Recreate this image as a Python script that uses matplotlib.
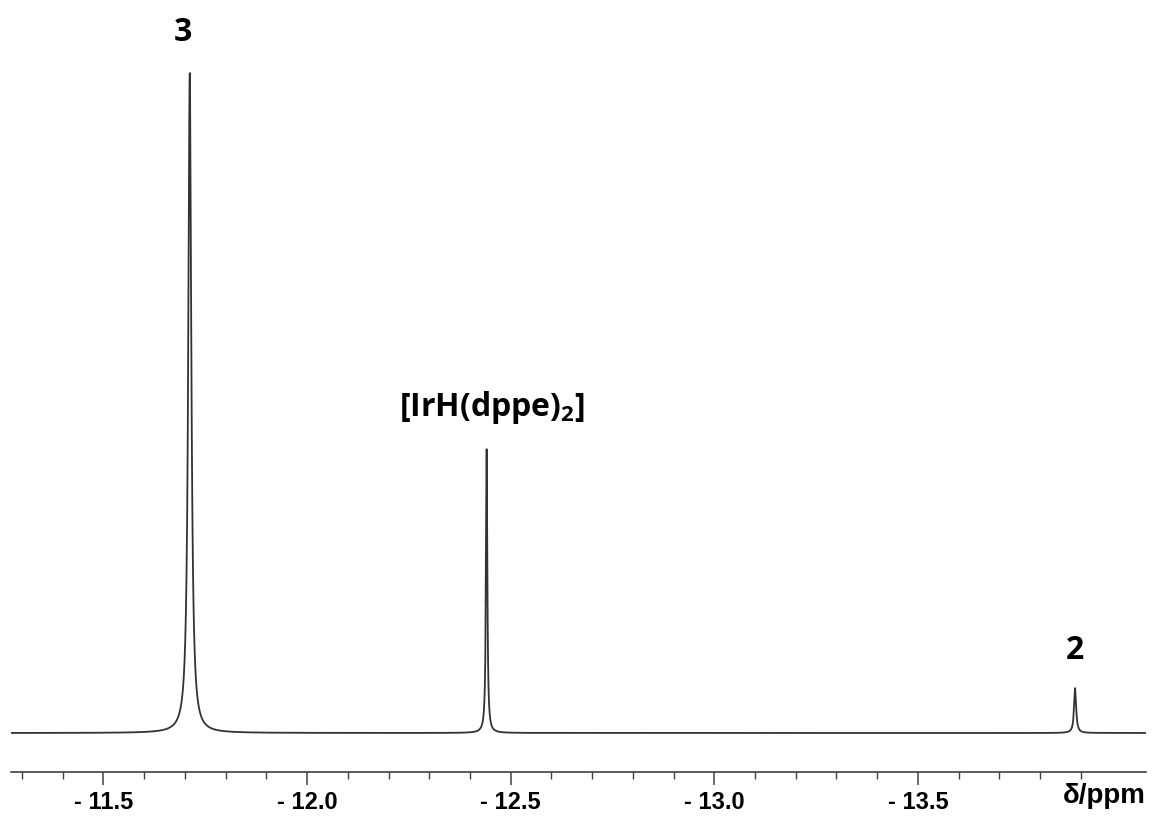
import numpy as np
import matplotlib
matplotlib.use("Agg")
import matplotlib.pyplot as plt
from matplotlib.ticker import FixedLocator

plt.rcParams["mathtext.fontset"] = "custom"
plt.rcParams["mathtext.bf"] = "Open Sans:bold"
plt.rcParams["mathtext.rm"] = "Open Sans:bold"

# hydride region peaks (ppm, relative intensity, half width in ppm)
peak_shifts = [-11.712, -12.441, -13.886]
peak_heights = [1.0, 0.43, 0.068]
peak_widths = [0.0045, 0.002, 0.003]
peak_labels = ["3", r"[IrH(dppe)$_\mathbf{2}$]", "2"]

major_ticks = [-11.5, -12.0, -12.5, -13.0, -13.5]
minor_ticks = [-11.3, -11.4, -11.6, -11.7, -11.8, -11.9, -12.1, -12.2, -12.3, -12.4,
               -12.6, -12.7, -12.8, -12.9, -13.1, -13.2, -13.3, -13.4, -13.6, -13.7,
               -13.8, -13.9]

x_left, x_right = -11.273, -14.06


def lorentz(x, x0, h, g):
    return h * g**2 / ((x - x0)**2 + g**2)


ppm = np.linspace(x_right, x_left, 30000)
spec = np.zeros_like(ppm)
for x0, h, g in zip(peak_shifts, peak_heights, peak_widths):
    spec += lorentz(ppm, x0, h, g)

fig = plt.figure(figsize=(11.53, 8.16), dpi=100)
W, H = 1153, 816
ax = fig.add_axes([11 / W, (H - 772) / H, (1146 - 11) / W, (772 - 60) / H])

ax.plot(ppm, spec, color="#333333", lw=1.3)
ax.set_xlim(x_left, x_right)
ax.set_ylim(-39 / 660, (712 - 39) / 660)

for s in ["top", "left", "right"]:
    ax.spines[s].set_visible(False)
ax.spines["bottom"].set_color("#404040")
ax.spines["bottom"].set_linewidth(1.2)
ax.set_yticks([])

ax.xaxis.set_major_locator(FixedLocator(major_ticks))
ax.xaxis.set_minor_locator(FixedLocator(minor_ticks))
ax.set_xticklabels([f"- {abs(v):.1f}" for v in major_ticks],
                   fontfamily="Liberation Sans", fontweight="bold", fontsize=17)
ax.tick_params(axis="x", which="major", length=9, width=1.1, color="#404040", pad=5)
ax.tick_params(axis="x", which="minor", length=5, width=1.0, color="#404040")

fig.text(1146 / W, 1 - 796 / H, "δ/ppm", ha="right", va="center",
         fontfamily="Liberation Sans", fontweight="bold", fontsize=20)

label_font = dict(fontfamily="Open Sans", fontweight="bold", fontsize=23)
ax.annotate(peak_labels[0], (peak_shifts[0], peak_heights[0]), xytext=(-5, 17),
            textcoords="offset points", ha="center", va="bottom", **label_font)
ax.annotate(peak_labels[1], (peak_shifts[1], peak_heights[1]), xytext=(4, 17),
            textcoords="offset points", ha="center", va="bottom", **label_font)
ax.annotate(peak_labels[2], (peak_shifts[2], peak_heights[2]), xytext=(0, 15),
            textcoords="offset points", ha="center", va="bottom", **label_font)

fig.savefig("out.png", dpi=100)
